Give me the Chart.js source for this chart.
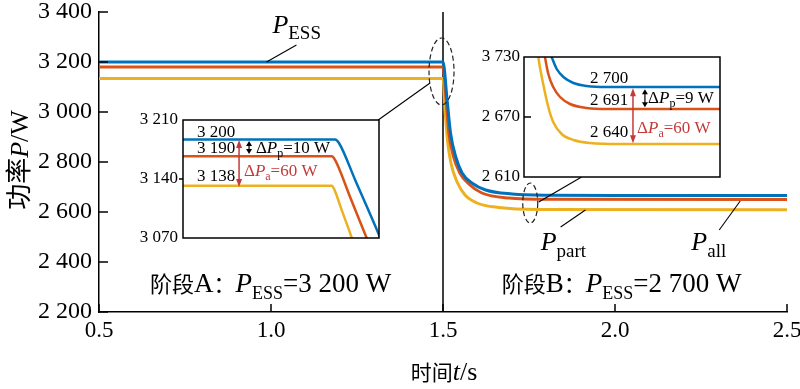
<!DOCTYPE html>
<html><head><meta charset="utf-8">
<script src="https://cdn.jsdelivr.net/npm/chart.js@4.4.1/dist/chart.umd.min.js"></script>
<style>
html,body{margin:0;padding:0;background:#fff;}
#wrap{position:relative;width:800px;height:389px;overflow:hidden;background:#fff;}
canvas{position:absolute;}
</style></head><body>
<div id="wrap">
<canvas id="main" width="800" height="389" style="left:0;top:0;width:800px;height:389px"></canvas>
<canvas id="insetA" width="265" height="140" style="left:120px;top:105px;width:265px;height:140px"></canvas>
<canvas id="insetB" width="255" height="140" style="left:470px;top:45px;width:255px;height:140px"></canvas>
</div>
<script>
// ---------- data ----------
// main chart: time t (s) and power (W)
const tESS  = [0.5, 1.5, 1.512, 1.522, 1.537, 1.556, 1.585, 1.624, 1.701, 1.807, 2.0, 2.5];
const pESS  = [3200, 3200, 3048, 2915, 2821, 2755, 2715, 2688, 2672, 2667, 2666, 2666];
const tAll  = [0.5, 1.5, 1.509, 1.517, 1.530, 1.549, 1.575, 1.613, 1.691, 1.807, 2.5];
const pAll  = [3180, 3180, 3048, 2916, 2824, 2756, 2712, 2676, 2656, 2651, 2650];
const tPart = [0.5, 1.5, 1.506, 1.513, 1.523, 1.541, 1.564, 1.599, 1.662, 1.778, 2.5];
const pPart = [3134, 3134, 3008, 2888, 2796, 2720, 2668, 2636, 2618, 2610, 2609];

const xTickValues = [0.5, 1.0, 1.5, 2.0, 2.5];
const xTickLabels = ['0.5', '1.0', '1.5', '2.0', '2.5'];
const yTickValues = [2200, 2400, 2600, 2800, 3000, 3200, 3400];
const yTickLabels = ['2 200', '2 400', '2 600', '2 800', '3 000', '3 200', '3 400'];

// inset A (stage A zoom), relative position 0..100 across the box
const aU_ESS  = [0, 77.6, 79.5, 88, 99.6, 102];
const aP_ESS  = [3187, 3187, 3183, 3138, 3076, 3062];
const aU_All  = [0, 75.9, 77.5, 85.2, 93.7, 95.5];
const aP_All  = [3167, 3167, 3163, 3119, 3070, 3060];
const aU_Part = [0, 75.9, 77.3, 81, 86.1, 87];
const aP_Part = [3132, 3132, 3127, 3103, 3070, 3063];
const aTickValues = [3070, 3140, 3210];
const aTickLabels = ['3 070', '3 140', '3 210'];

// inset B (stage B zoom)
const bU_ESS  = [11, 14.1, 16.7, 20.1, 25.2, 32, 42.2, 100];
const bP_ESS  = [2745, 2730, 2718, 2710, 2704, 2701, 2700, 2700];
const bU_All  = [9.5, 10.7, 12.4, 14.9, 18.4, 23.5, 32, 42.2, 100];
const bP_All  = [2745, 2730, 2713, 2700, 2690, 2683, 2679, 2678, 2678];
const bU_Part = [6.2, 7.3, 9.8, 12.4, 14.9, 19.2, 25.2, 33.7, 49, 100];
const bP_Part = [2750, 2730, 2703, 2680, 2665, 2653, 2647, 2644, 2643, 2643];
const bTickValues = [2610, 2670, 2730];
const bTickLabels = ['2 610', '2 670', '3 730'];

// ---------- styling ----------
const BLUE = '#0072BD', ORANGE = '#D95319', YELLOW = '#EDB120', RED = '#C43A3A';
const SERIF = "'Liberation Serif','Times New Roman',serif";
const CJK = "'Noto Sans CJK SC','Noto Sans CJK JP',sans-serif";
const sf = (s, it) => (it ? 'italic ' : '') + s + 'px ' + SERIF;
const cf = s => s + 'px ' + CJK;
const zip = (xs, ys) => xs.map((x, i) => ({x: x, y: ys[i]}));

function drawRich(ctx, x, y, parts, align) {
  ctx.save();
  ctx.textBaseline = 'alphabetic';
  ctx.textAlign = 'left';
  let w = 0;
  parts.forEach(p => { ctx.font = p.f; w += ctx.measureText(p.t).width; });
  if (align === 'center') x -= w / 2;
  parts.forEach(p => {
    ctx.font = p.f; ctx.fillStyle = p.c || '#000';
    ctx.fillText(p.t, x, y + (p.dy || 0));
    x += ctx.measureText(p.t).width;
  });
  ctx.restore();
}
function line(ctx, x1, y1, x2, y2, w, col, dash) {
  ctx.save(); ctx.beginPath(); ctx.lineWidth = w; ctx.strokeStyle = col || '#000';
  if (dash) ctx.setLineDash(dash);
  ctx.moveTo(x1, y1); ctx.lineTo(x2, y2); ctx.stroke(); ctx.restore();
}
function ellipse(ctx, cx, cy, rx, ry) {
  ctx.save(); ctx.beginPath(); ctx.lineWidth = 1.2; ctx.strokeStyle = '#222';
  ctx.setLineDash([5, 3]); ctx.ellipse(cx, cy, rx, ry, 0, 0, Math.PI * 2); ctx.stroke(); ctx.restore();
}
function dblArrow(ctx, x, y1, y2, col, hl, hw, lw) {
  ctx.save(); ctx.strokeStyle = col; ctx.fillStyle = col; ctx.lineWidth = lw;
  ctx.beginPath(); ctx.moveTo(x, y1 + hl * 0.8); ctx.lineTo(x, y2 - hl * 0.8); ctx.stroke();
  ctx.beginPath(); ctx.moveTo(x, y1); ctx.lineTo(x - hw / 2, y1 + hl); ctx.lineTo(x + hw / 2, y1 + hl); ctx.closePath(); ctx.fill();
  ctx.beginPath(); ctx.moveTo(x, y2); ctx.lineTo(x - hw / 2, y2 - hl); ctx.lineTo(x + hw / 2, y2 - hl); ctx.closePath(); ctx.fill();
  ctx.restore();
}

function ds(label, data, color, w, clip) {
  const d = {label: label, data: data, borderColor: color, backgroundColor: color, borderWidth: w,
    showLine: true, pointRadius: 0, cubicInterpolationMode: 'monotone', fill: false};
  if (clip !== undefined) d.clip = clip;
  return d;
}

// ---------- main chart ----------
const mainPlugin = {
  id: 'mainDecor',
  beforeDatasetsDraw(chart) {
    const {ctx, chartArea: a, scales: {x}} = chart;
    const px = x.getPixelForValue(1.5);
    line(ctx, px, a.top, px, a.bottom, 1.5, '#000');
  },
  afterDatasetsDraw(chart) {
    const {ctx, chartArea: a, scales: {x, y}} = chart;
    const X = v => x.getPixelForValue(v), Y = v => y.getPixelForValue(v);
    // inward ticks
    yTickValues.forEach(v => line(ctx, a.left, Y(v), a.left + 9, Y(v), 1.5, '#000'));
    xTickValues.forEach(v => line(ctx, X(v), a.bottom, X(v), a.bottom - 8, 1.5, '#000'));
    // dashed ellipses and leader lines
    ellipse(ctx, X(1.4957), Y(3162), 12.5, 33.5);
    line(ctx, X(1.3116), Y(2968), X(1.4623), Y(3116), 1.1, '#000');
    ellipse(ctx, X(1.7536), Y(2636), 7.5, 20);
    line(ctx, X(1.7783), Y(2640), X(1.9029), Y(2740), 1.1, '#000');
    // series labels
    line(ctx, X(0.987), Y(3200), X(1.074), Y(3268), 1.1, '#000');
    drawRich(ctx, X(1.004), Y(3316), [{t: 'P', f: sf(26, true)}, {t: 'ESS', f: sf(19), dy: 6}]);
    line(ctx, X(1.914), Y(2608), X(1.842), Y(2540), 1.1, '#000');
    drawRich(ctx, X(1.784), Y(2448), [{t: 'P', f: sf(26, true)}, {t: 'part', f: sf(19), dy: 7}]);
    line(ctx, X(2.364), Y(2644), X(2.303), Y(2528), 1.1, '#000');
    drawRich(ctx, X(2.222), Y(2448), [{t: 'P', f: sf(26, true)}, {t: 'all', f: sf(19), dy: 7}]);
    // stage texts
    drawRich(ctx, X(0.648), Y(2280), [
      {t: '阶段', f: cf(22)}, {t: 'A', f: sf(27)}, {t: '：', f: cf(22)},
      {t: 'P', f: sf(27, true)}, {t: 'ESS', f: sf(18), dy: 7}, {t: '=3 200 W', f: sf(27)}]);
    drawRich(ctx, X(1.671), Y(2280), [
      {t: '阶段', f: cf(22)}, {t: 'B', f: sf(27)}, {t: '：', f: cf(22)},
      {t: 'P', f: sf(27, true)}, {t: 'ESS', f: sf(18), dy: 7}, {t: '=2 700 W', f: sf(27)}]);
  },
  afterDraw(chart) {
    const ctx = chart.ctx;
    // y axis title (rotated)
    ctx.save();
    ctx.translate(19, 160); ctx.rotate(-Math.PI / 2);
    drawRich(ctx, 0, 9, [{t: '功率', f: cf(26)}, {t: 'P', f: sf(26, true)}, {t: '/W', f: sf(26)}], 'center');
    ctx.restore();
    // x axis title
    drawRich(ctx, 444, 380, [{t: '时间', f: cf(21)}, {t: 't', f: sf(26, true)}, {t: '/s', f: sf(26)}], 'center');
  }
};

new Chart(document.getElementById('main'), {
  type: 'scatter',
  data: {datasets: [
    ds('P_ESS', zip(tESS, pESS), BLUE, 3),
    ds('P_all', zip(tAll, pAll), ORANGE, 3),
    ds('P_part', zip(tPart, pPart), YELLOW, 3)
  ]},
  options: {
    responsive: false, animation: false, events: [],
    layout: {padding: {top: 12, right: 13, left: 0, bottom: 0}},
    plugins: {legend: {display: false}, tooltip: {enabled: false}},
    scales: {
      x: {
        type: 'linear', min: 0.5, max: 2.5,
        afterBuildTicks: s => { s.ticks = xTickValues.map(v => ({value: v})); },
        ticks: {callback: v => xTickLabels[xTickValues.indexOf(v)], font: {family: SERIF, size: 23}, color: '#000', padding: 5, maxRotation: 0, autoSkip: false},
        grid: {display: true, drawOnChartArea: false, drawTicks: false},
        border: {display: true, color: '#000', width: 1.5},
        afterFit: s => { s.height = 77; s.paddingLeft = 0; s.paddingRight = 0; }
      },
      y: {
        type: 'linear', min: 2200, max: 3400,
        afterBuildTicks: s => { s.ticks = yTickValues.map(v => ({value: v})); },
        ticks: {callback: v => yTickLabels[yTickValues.indexOf(v)], font: {family: SERIF, size: 24}, color: '#000', padding: 7},
        grid: {display: true, drawOnChartArea: false, drawTicks: false},
        border: {display: true, color: '#000', width: 1.5},
        afterFit: s => { s.width = 99; s.paddingTop = 0; s.paddingBottom = 0; }
      }
    }
  },
  plugins: [mainPlugin]
});

// ---------- insets ----------
function makeInset(id, sets, yMin, yMax, tickVals, tickLabels, pad, yWidth, labelPad, decorate) {
  const plug = {
    id: 'inset_' + id,
    beforeDraw(chart) {
      const {ctx, chartArea: a} = chart;
      ctx.save(); ctx.fillStyle = '#fff'; ctx.fillRect(a.left, a.top, a.right - a.left, a.bottom - a.top); ctx.restore();
    },
    afterDatasetsDraw(chart) {
      const {ctx, chartArea: a, scales: {x, y}} = chart;
      ctx.save(); ctx.strokeStyle = '#000'; ctx.lineWidth = 1.5;
      ctx.strokeRect(a.left, a.top, a.right - a.left, a.bottom - a.top); ctx.restore();
      decorate(ctx, v => x.getPixelForValue(v), v => y.getPixelForValue(v), a);
    }
  };
  return new Chart(document.getElementById(id), {
    type: 'scatter',
    data: {datasets: sets},
    options: {
      responsive: false, animation: false, events: [],
      layout: {padding: pad},
      plugins: {legend: {display: false}, tooltip: {enabled: false}},
      scales: {
        x: {type: 'linear', min: 0, max: 100, display: false},
        y: {
          type: 'linear', min: yMin, max: yMax,
          afterBuildTicks: s => { s.ticks = tickVals.map(v => ({value: v})); },
          ticks: {callback: v => tickLabels[tickVals.indexOf(v)], font: {family: SERIF, size: 17}, color: '#000', padding: labelPad},
          grid: {display: false, drawTicks: false}, border: {display: false},
          afterFit: s => { s.width = yWidth; s.paddingTop = 0; s.paddingBottom = 0; }
        }
      }
    },
    plugins: [plug]
  });
}

makeInset('insetA', [
  ds('P_ESS', zip(aU_ESS, aP_ESS), BLUE, 2.5, 0),
  ds('P_all', zip(aU_All, aP_All), ORANGE, 2.5, 0),
  ds('P_part', zip(aU_Part, aP_Part), YELLOW, 2.5, 0)
], 3070, 3210, aTickValues, aTickLabels, {top: 15, right: 6, bottom: 7, left: 0}, 63, 5,
(ctx, X, Y, a) => {
  line(ctx, a.left - 4, Y(3140), a.left, Y(3140), 1.5, '#000');
  const f = sf(17);
  drawRich(ctx, X(7.1), Y(3189.8), [{t: '3 200', f: f}]);
  drawRich(ctx, X(7.1), Y(3170.8), [{t: '3 190', f: f}]);
  drawRich(ctx, X(7.1), Y(3137.6), [{t: '3 138', f: f}]);
  dblArrow(ctx, X(33.7), Y(3185), Y(3169.6), '#000', 5, 6, 1.2);
  drawRich(ctx, X(37.2), Y(3170.8), [{t: 'Δ', f: f}, {t: 'P', f: sf(17, true)}, {t: 'p', f: sf(12), dy: 4}, {t: '=10 W', f: f}]);
  dblArrow(ctx, X(28.6), Y(3186.3), Y(3130.5), RED, 8, 6, 1.5);
  drawRich(ctx, X(31.1), Y(3143.5), [{t: 'Δ', f: f, c: RED}, {t: 'P', f: sf(17, true), c: RED}, {t: 'a', f: sf(12), dy: 4, c: RED}, {t: '=60 W', f: f, c: RED}]);
});

makeInset('insetB', [
  ds('P_ESS', zip(bU_ESS, bP_ESS), BLUE, 2.5, 0),
  ds('P_all', zip(bU_All, bP_All), ORANGE, 2.5, 0),
  ds('P_part', zip(bU_Part, bP_Part), YELLOW, 2.5, 0)
], 2610, 2730, bTickValues, bTickLabels, {top: 12, right: 5, bottom: 8, left: 0}, 54, 4,
(ctx, X, Y, a) => {
  line(ctx, a.left, Y(2670), a.left + 7, Y(2670), 1.5, '#000');
  const f = sf(17);
  drawRich(ctx, X(33.7), Y(2703.7), [{t: '2 700', f: f}]);
  drawRich(ctx, X(33.7), Y(2681.7), [{t: '2 691', f: f}]);
  drawRich(ctx, X(33.7), Y(2649.7), [{t: '2 640', f: f}]);
  dblArrow(ctx, X(61.7), Y(2697.7), Y(2679.7), '#000', 5, 6, 1.2);
  drawRich(ctx, X(63.3), Y(2683.7), [{t: 'Δ', f: f}, {t: 'P', f: sf(17, true)}, {t: 'p', f: sf(12), dy: 4}, {t: '=9 W', f: f}]);
  dblArrow(ctx, X(55.6), Y(2698.7), Y(2643.7), RED, 8, 6, 1.5);
  drawRich(ctx, X(57.7), Y(2653.7), [{t: 'Δ', f: f, c: RED}, {t: 'P', f: sf(17, true), c: RED}, {t: 'a', f: sf(12), dy: 4, c: RED}, {t: '=60 W', f: f, c: RED}]);
});
</script>
</body></html>
